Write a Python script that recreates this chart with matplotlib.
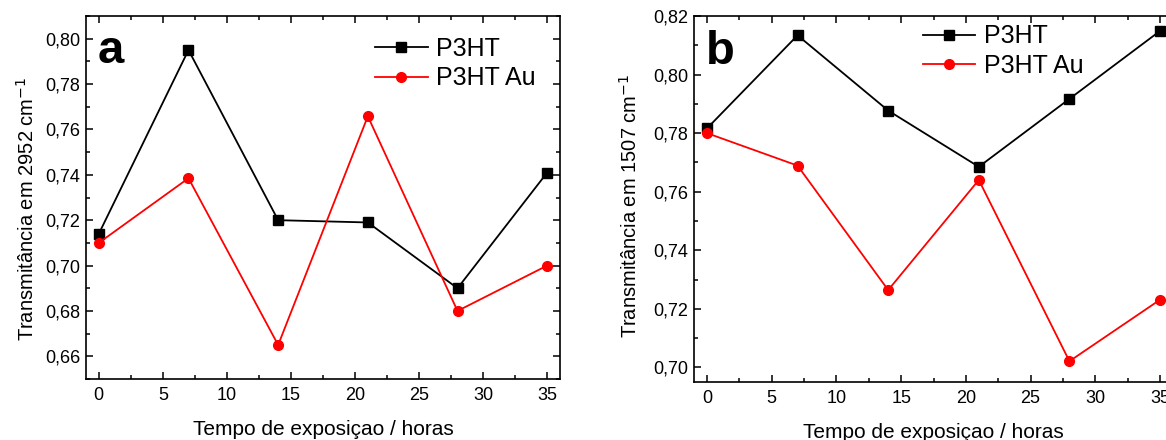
import matplotlib
matplotlib.use("Agg")
import matplotlib.pyplot as plt
from matplotlib.ticker import MultipleLocator, FuncFormatter

plt.rcParams['font.family'] = ['Liberation Sans', 'DejaVu Sans']

# Data
hours = [0, 7, 14, 21, 28, 35]
a_p3ht = [0.714, 0.795, 0.720, 0.719, 0.690, 0.741]
a_p3ht_au = [0.710, 0.7385, 0.665, 0.7658, 0.680, 0.700]
b_p3ht = [0.7816, 0.8134, 0.7877, 0.7685, 0.7917, 0.8149]
b_p3ht_au = [0.780, 0.7689, 0.7264, 0.7640, 0.7021, 0.7231]
labels = ["P3HT", "P3HT Au"]
xlabel = "Tempo de exposiçao / horas"
ylabel_a = "Transmitância em 2952 cm$^{-1}$"
ylabel_b = "Transmitância em 1507 cm$^{-1}$"

W, H = 1166, 440
fig = plt.figure(figsize=(W / 100, H / 100), dpi=100)

def px_axes(l, r, t, b):
    return fig.add_axes([l / W, (H - b) / H, (r - l) / W, (b - t) / H])

ax_a = px_axes(86, 560, 16, 379)
ax_b = px_axes(694, 1173, 16, 382)

fmt = FuncFormatter(lambda v, p: f"{v:.2f}".replace('.', ','))

def style(ax, ylim, ylab, letter, leg_anchor, ylab_xy):
    ax.set_xlim(-1, 36)
    ax.set_ylim(*ylim)
    ax.xaxis.set_major_locator(MultipleLocator(5))
    ax.xaxis.set_minor_locator(MultipleLocator(2.5))
    ax.yaxis.set_major_locator(MultipleLocator(0.02))
    ax.yaxis.set_minor_locator(MultipleLocator(0.01))
    ax.yaxis.set_major_formatter(fmt)
    ax.tick_params(which='both', direction='in', top=True, right=True, width=1.1)
    ax.tick_params(which='major', length=5, labelsize=13, pad=4)
    ax.tick_params(axis='x', which='major', pad=6)
    ax.tick_params(which='minor', length=3)
    for s in ax.spines.values():
        s.set_linewidth(1.2)
    ax.set_xlabel(xlabel, fontsize=15, labelpad=11)
    ax.set_ylabel(ylab, fontsize=14.5)
    ax.yaxis.set_label_coords(*ylab_xy)
    ax.text(0.025, 0.87, letter, transform=ax.transAxes, fontsize=34,
            fontweight='bold', va='baseline', ha='left')
    ax.legend(loc='upper left', bbox_to_anchor=leg_anchor, frameon=False,
              fontsize=18, handlelength=2.1, handletextpad=0.35,
              labelspacing=0.23, borderpad=0, borderaxespad=0)

for ax, y1, y2 in [(ax_a, a_p3ht, a_p3ht_au), (ax_b, b_p3ht, b_p3ht_au)]:
    ax.plot(hours, y1, color='black', marker='s', markersize=6.5, lw=1.3, label=labels[0])
    ax.plot(hours, y2, color='red', marker='o', markersize=7, lw=1.3, label=labels[1])

style(ax_a, (0.65, 0.81), ylabel_a, 'a', (0.61, 0.943), (-0.101, 0.47))
style(ax_b, (0.695, 0.82), ylabel_b, 'b', (0.478, 0.977), (-0.111, 0.48))

fig.savefig("out.png", dpi=100)
